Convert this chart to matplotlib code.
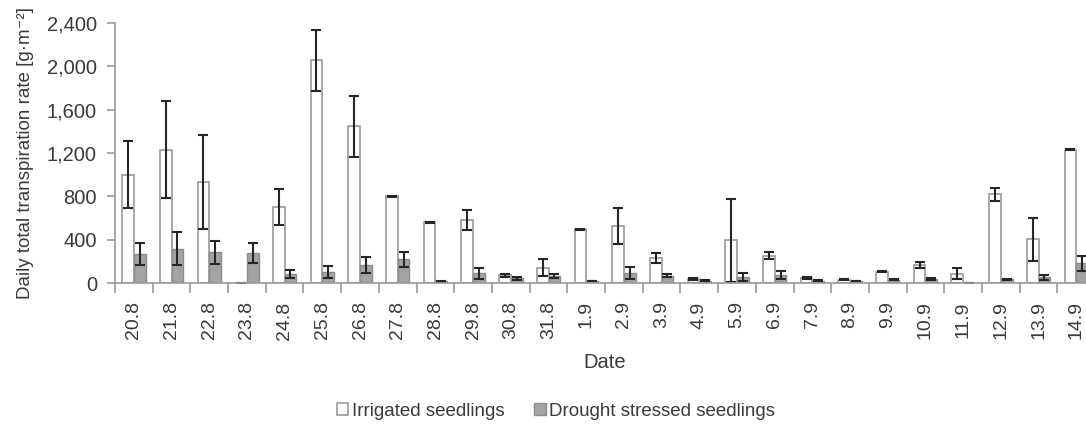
import numpy as np
import matplotlib as mpl
mpl.use('agg')
import matplotlib.pyplot as plt
from matplotlib.ticker import FixedLocator, FuncFormatter

plt.rcParams['font.family'] = ['Liberation Sans', 'DejaVu Sans']
plt.rcParams['text.color'] = '#3a3a3a'
plt.rcParams['axes.labelcolor'] = '#3a3a3a'
plt.rcParams['xtick.color'] = '#9a9a9a'
plt.rcParams['ytick.color'] = '#9a9a9a'
plt.rcParams['xtick.labelcolor'] = '#3a3a3a'
plt.rcParams['ytick.labelcolor'] = '#3a3a3a'

### data
dates = ['20.8', '21.8', '22.8', '23.8', '24.8', '25.8', '26.8', '27.8', '28.8',
         '29.8', '30.8', '31.8', '1.9', '2.9', '3.9', '4.9', '5.9', '6.9', '7.9',
         '8.9', '9.9', '10.9', '11.9', '12.9', '13.9', '14.9']
irrigated = [1000, 1230, 935, 0, 700, 2055, 1445, 800, 562, 585, 75, 145, 497,
             530, 233, 40, 395, 255, 50, 35, 107, 168, 90, 822, 405, 1232]
irrigated_err = [310, 445, 435, 0, 165, 280, 280, 5, 5, 90, 15, 75, 5,
                 165, 48, 5, 380, 35, 10, 5, 5, 30, 50, 60, 195, 5]
drought = [270, 320, 285, 280, 88, 107, 170, 221, 18, 92, 45, 70, 22,
           92, 70, 22, 58, 76, 22, 20, 35, 43, 5, 37, 55, 185]
drought_err = [100, 150, 108, 95, 35, 55, 75, 70, 3, 50, 12, 20, 3,
               55, 15, 5, 40, 35, 5, 3, 5, 8, 2, 5, 20, 70]
yticks = [0, 400, 800, 1200, 1600, 2000, 2400]

fig = plt.figure(figsize=(10.86, 4.28), dpi=100)
ax = fig.add_axes([0.1059, 0.338, 0.9025, 0.609])

x = np.arange(len(dates))
w = 0.31
err_kw = dict(ecolor='#262626', elinewidth=1.5, capsize=3.5, capthick=1.5)

ax.bar(x - w / 2, irrigated, w, color='white', edgecolor='#9a9a9a', linewidth=1.2,
       yerr=irrigated_err, error_kw=err_kw, label='Irrigated seedlings')
ax.bar(x + w / 2, drought, w, color='#a3a3a3', edgecolor='#8c8c8c', linewidth=1.0,
       yerr=drought_err, error_kw=err_kw, label='Drought stressed seedlings')

ax.set_xlim(-0.5, len(dates) - 0.5)
ax.set_ylim(0, 2400)
ax.set_yticks(yticks)
ax.yaxis.set_major_formatter(FuncFormatter(lambda v, p: '{:,.0f}'.format(v)))

ax.set_xticks(x)
ax.set_xticklabels(dates, rotation=90)
ax.xaxis.set_minor_locator(FixedLocator(np.arange(-0.5, len(dates), 1.0)))
ax.tick_params(axis='x', which='major', length=0, pad=13, labelsize=14)
ax.tick_params(axis='x', which='minor', length=7, width=1.2, direction='out')
ax.tick_params(axis='y', length=6, width=1.2, direction='out', labelsize=14.5, pad=7)

for s in ['top', 'right']:
    ax.spines[s].set_visible(False)
for s in ['left', 'bottom']:
    ax.spines[s].set_color('#9a9a9a')
    ax.spines[s].set_linewidth(1.2)

ax.set_ylabel('Daily total transpiration rate [g·m⁻²]', fontsize=13.5, labelpad=9)
ax.set_xlabel('Date', fontsize=14.5, labelpad=10)

fig.legend(loc='lower center', bbox_to_anchor=(0.512, -0.02), ncol=2, frameon=False,
           fontsize=13.5, handlelength=0.6, handleheight=0.6, handletextpad=0.2,
           columnspacing=1.6)

plt.savefig('out.png', dpi=100)
plt.close()
